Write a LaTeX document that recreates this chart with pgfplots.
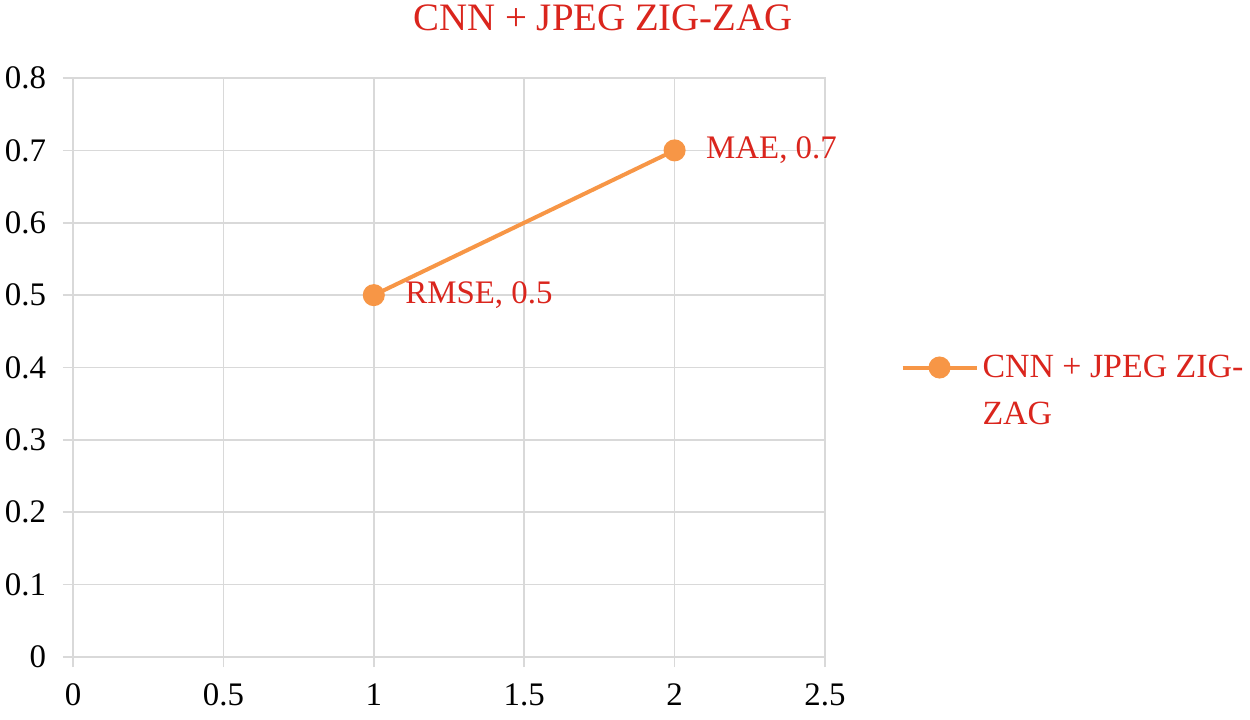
\documentclass[border=0pt]{standalone}
\usepackage{pgfplots}
\pgfplotsset{compat=1.18}
\usepackage{fontspec}
\setmainfont{Liberation Serif}
\definecolor{xlorange}{RGB}{247,150,70}
\definecolor{xlred}{RGB}{218,37,29}
\definecolor{xlgrid}{RGB}{217,217,217}
\begin{document}
\begin{tikzpicture}
\useasboundingbox (0,0) rectangle (625bp,360bp);
\begin{axis}[
    at={(36.5bp,31.5bp)}, anchor=south west,
    scale only axis,
    width=376bp, height=289.5bp,
    xmin=0, xmax=2.5, ymin=0, ymax=0.8,
    xtick={0,0.5,...,2.5},
    ytick={0,0.1,...,0.8},
    grid=major,
    grid style={xlgrid, line width=0.8pt},
    axis line style={xlgrid, line width=0.8pt},
    tick style={xlgrid, line width=0.8pt},
    tick align=outside,
    major tick length=5bp,
    xtick pos=bottom, ytick pos=left,
    font=\fontsize{16.5}{20}\selectfont,
    /pgf/number format/assume math mode=true,
    yticklabel style={xshift=-5bp},
    xticklabel style={yshift=-5bp},
    title={CNN + JPEG ZIG-ZAG},
    title style={at={(0.705,1)}, anchor=base, yshift=18bp, text=xlred,
        font=\fontsize{19.5}{23}\selectfont},
    legend style={at={(1.092,0.5)}, anchor=west, draw=none, fill=none,
        text=xlred, font=\fontsize{17}{23.5}\selectfont},
    legend cell align=left,
    legend image code/.code={
        \draw[mark repeat=2, mark phase=2] plot coordinates {(0bp,0bp) (18.5bp,0bp) (37bp,0bp)};
    },
]
\addplot[color=xlorange, line width=2bp, mark=*, mark size=4.5bp,
    mark options={fill=xlorange, draw=xlorange},
    point meta=explicit symbolic,
    nodes near coords,
    every node near coord/.append style={anchor=west, xshift=11.5bp, text=xlred}]
    coordinates {
    (1,0.5) [RMSE, 0.5]
    (2,0.7) [MAE, 0.7]
};
\addlegendentry{\parbox[t]{140bp}{\raggedright CNN + JPEG ZIG-\\ZAG}}
\end{axis}
\end{tikzpicture}
\end{document}
